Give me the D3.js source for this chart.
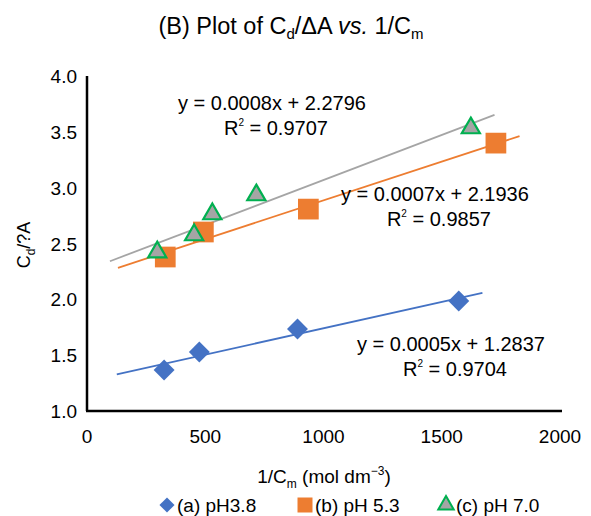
<!DOCTYPE html>
<html>
<head>
<meta charset="utf-8">
<script src="https://cdn.jsdelivr.net/npm/d3@7"></script>
<style>
  body { margin: 0; background: #fff; }
  text { font-family: "Liberation Sans", Arial, Helvetica, sans-serif; fill: #000; }
</style>
</head>
<body>
<div id="chart"></div>
<script>
// data
var seriesNames = ["(a) pH3.8", "(b) pH 5.3", "(c) pH 7.0"];
var xA = [326, 475, 890, 1572];
var yA = [1.367, 1.528, 1.734, 1.985];
var xB = [331, 492, 936, 1729];
var yB = [2.379, 2.603, 2.808, 3.399];
var xC = [297, 453, 530, 716, 1623];
var yC = [2.423, 2.576, 2.764, 2.934, 3.534];
var eqText = ["y = 0.0005x + 1.2837", "y = 0.0007x + 2.1936", "y = 0.0008x + 2.2796"];
var r2Text = ["0.9704", "0.9857", "0.9707"];
// where each label sits, in data units
var eqAt = [[1539, 1.537], [1471, 2.881], [782, 3.695]];
var xTicks = [0, 500, 1000, 1500, 2000];
var yTicks = [1.0, 1.5, 2.0, 2.5, 3.0, 3.5, 4.0];
var backcast = 200, forecast = 100;

var W = 591, H = 516;
var svg = d3.select("#chart").append("svg")
    .attr("width", W).attr("height", H);

var x = d3.scaleLinear().domain([0, 2000]).range([87, 560]);
var y = d3.scaleLinear().domain([1, 4]).range([411, 76]);

// title
var title = svg.append("text")
    .attr("x", 291).attr("y", 34)
    .attr("text-anchor", "middle")
    .style("font-size", "23.5px");
title.append("tspan").text("(B) Plot of C");
title.append("tspan").attr("dy", 5).style("font-size", "15px").text("d");
title.append("tspan").attr("dy", -5).text("/\u0394A ");
title.append("tspan").style("font-style", "italic").text("vs.");
title.append("tspan").text(" 1/C");
title.append("tspan").attr("dy", 5).style("font-size", "15px").text("m");

// axes (no tick marks, just labels)
svg.append("line")
    .attr("x1", x(0)).attr("x2", x(0))
    .attr("y1", y(4)).attr("y2", y(1))
    .attr("stroke", "#000").attr("stroke-width", 2.5);
svg.append("line")
    .attr("x1", x(0) - 1).attr("x2", x(2000) + 2)
    .attr("y1", y(1)).attr("y2", y(1))
    .attr("stroke", "#000").attr("stroke-width", 2.5);

svg.selectAll(".ytick").data(yTicks).enter().append("text")
    .attr("class", "ytick")
    .attr("x", 77)
    .attr("y", function(d) { return y(d) + 7; })
    .attr("text-anchor", "end")
    .style("font-size", "19px")
    .text(function(d) { return d3.format(".1f")(d); });

svg.selectAll(".xtick").data(xTicks).enter().append("text")
    .attr("class", "xtick")
    .attr("x", function(d) { return x(d); })
    .attr("y", 443)
    .attr("text-anchor", "middle")
    .style("font-size", "19px")
    .text(function(d) { return d; });

// axis titles
var xt = svg.append("text")
    .attr("x", 324).attr("y", 483)
    .attr("text-anchor", "middle")
    .style("font-size", "19px");
xt.append("tspan").text("1/C");
xt.append("tspan").attr("dy", 5).style("font-size", "12px").text("m");
xt.append("tspan").attr("dy", -5).text(" (mol dm");
xt.append("tspan").attr("dy", -8).style("font-size", "12px").text("\u22123");
xt.append("tspan").attr("dy", 8).text(")");

var yt = svg.append("text")
    .attr("transform", "translate(30,245) rotate(-90)")
    .attr("text-anchor", "middle")
    .style("font-size", "18px");
yt.append("tspan").text("C");
yt.append("tspan").attr("dy", 5).style("font-size", "12px").text("d");
yt.append("tspan").attr("dy", -5).text("/?A");

// series setup
var series = [
  {xs: xA, ys: yA, color: "#4472C4", shape: "diamond"},
  {xs: xB, ys: yB, color: "#ED7D31", shape: "square"},
  {xs: xC, ys: yC, color: "#A5A5A5", shape: "triangle"}
];

function fit(xs, ys) {
  var mx = d3.mean(xs), my = d3.mean(ys);
  var sxy = d3.sum(xs, function(v, i) { return (v - mx) * (ys[i] - my); });
  var sxx = d3.sum(xs, function(v) { return (v - mx) * (v - mx); });
  var m = sxy / sxx;
  return {m: m, b: my - m * mx};
}

// trendlines
series.forEach(function(s) {
  var f = fit(s.xs, s.ys);
  var x0 = d3.min(s.xs) - backcast, x1 = d3.max(s.xs) + forecast;
  svg.append("line")
      .attr("x1", x(x0)).attr("y1", y(f.m * x0 + f.b))
      .attr("x2", x(x1)).attr("y2", y(f.m * x1 + f.b))
      .attr("stroke", s.color).attr("stroke-width", 1.8);
});

var sym = {
  diamond: d3.symbol().type(d3.symbolDiamond2).size(280),
  square: d3.symbol().type(d3.symbolSquare).size(430),
  triangle: d3.symbol().type(d3.symbolTriangle2).size(235)
};
var legSym = {
  diamond: d3.symbol().type(d3.symbolDiamond2).size(145),
  square: d3.symbol().type(d3.symbolSquare).size(225),
  triangle: d3.symbol().type(d3.symbolTriangle2).size(170)
};

function drawMarker(g, gen, shape, color, sw) {
  var p = g.append("path").attr("d", gen());
  if (shape == "triangle") {
    p.attr("fill", "#A5A5A5").attr("stroke", "#00B050").attr("stroke-width", sw);
  } else {
    p.attr("fill", color);
  }
  return p;
}

// markers
series.forEach(function(s) {
  s.xs.forEach(function(v, i) {
    var g = svg.append("g")
        .attr("transform", "translate(" + x(v) + "," + y(s.ys[i]) + ")");
    drawMarker(g, sym[s.shape], s.shape, s.color, 2.2);
  });
});

// equation labels
eqAt.forEach(function(p, i) {
  var cx = x(p[0]), cy = y(p[1]);
  svg.append("text")
      .attr("x", cx).attr("y", cy)
      .attr("text-anchor", "middle")
      .style("font-size", "20px")
      .text(eqText[i]);
  var r = svg.append("text")
      .attr("x", cx + 4).attr("y", cy + 25)
      .attr("text-anchor", "middle")
      .style("font-size", "20px");
  r.append("tspan").text("R");
  r.append("tspan").attr("dy", -9).style("font-size", "10px").text("2");
  r.append("tspan").attr("dy", 9).text(" = " + r2Text[i]);
});

// legend
var legX = [167, 305, 446];
seriesNames.forEach(function(name, i) {
  var g = svg.append("g").attr("transform", "translate(" + legX[i] + ",505)");
  drawMarker(g, legSym[series[i].shape], series[i].shape, series[i].color, 2);
  g.append("text")
      .attr("x", 10).attr("y", 7)
      .style("font-size", "19px")
      .text(name);
});
</script>
</body>
</html>
